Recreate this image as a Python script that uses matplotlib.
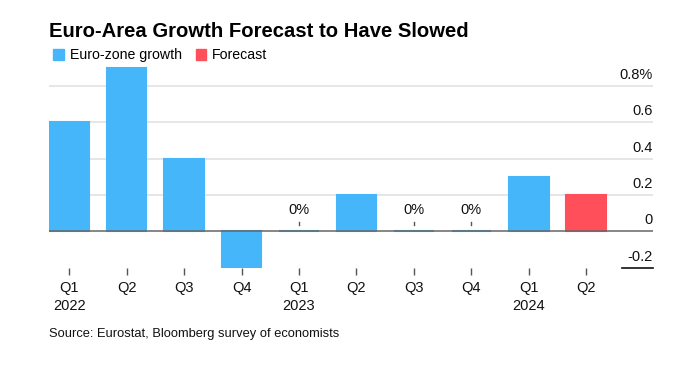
import matplotlib.pyplot as plt
import matplotlib.transforms as mtransforms
from matplotlib.patches import Patch

plt.rcParams['font.family'] = ['Liberation Sans', 'DejaVu Sans']

# Quarterly euro-area GDP growth (%)
quarters = ["Q1\n2022", "Q2", "Q3", "Q4", "Q1\n2023", "Q2", "Q3", "Q4", "Q1\n2024", "Q2"]
growth = [0.6, 0.9, 0.4, -0.2, 0.0, 0.2, 0.0, 0.0, 0.3, 0.2]
is_forecast = [False] * 9 + [True]
yticks = [-0.2, 0, 0.2, 0.4, 0.6, 0.8]
ytick_labels = ["-0.2", "0", "0.2", "0.4", "0.6", "0.8%"]

blue = "#45b6fa"
red = "#ff4f5b"

fig = plt.figure(figsize=(6.99, 3.65), dpi=100)
ax = fig.add_axes([0.0701, 0.267, 0.864, 0.557])

x = list(range(len(growth)))
colors = [red if f else blue for f in is_forecast]
ax.bar(x, growth, width=0.69, color=colors, edgecolor=colors, linewidth=1.5, zorder=3)

# gridlines (label sits on top of each line)
for v in yticks[2:]:
    ax.axhline(v, color="#e1e1e1", lw=1.2, zorder=1)
ax.axhline(0.003, color="#666666", lw=1.1, zorder=4)

ax.set_xlim(-0.35, 10.16)
ax.set_ylim(-0.2, 0.92)

# right-hand y labels above their lines
trans = mtransforms.blended_transform_factory(ax.transAxes, ax.transData)
for v, lab in zip(yticks, ytick_labels):
    ax.text(1.0, v + 0.022, lab, transform=trans, ha="right", va="bottom", fontsize=10.5, color="#111111")
ax.plot([0.948, 1.0], [-0.2, -0.2], transform=trans, color="#111111", lw=1.2, clip_on=False)

# "0%" labels over zero bars
for xi, g in zip(x, growth):
    if g == 0:
        ax.text(xi, 0.08, "0%", ha="center", va="bottom", fontsize=10.5, color="#111111")
        ax.plot([xi, xi], [0.035, 0.05], color="#555555", lw=1)

ax.set_xticks(x)
ax.set_xticklabels(quarters, fontsize=10.5, color="#111111", linespacing=1.3)
ax.tick_params(axis="x", length=5, width=1, color="#555555", pad=5)
ax.set_yticks([])
for s in ax.spines.values():
    s.set_visible(False)

fig.text(0.0701, 0.915, "Euro-Area Growth Forecast to Have Slowed", fontsize=14.6, fontweight="bold", va="center")
handles = [Patch(color=blue, label="Euro-zone growth"), Patch(color=red, label="Forecast")]
fig.legend(handles=handles, loc="center left", bbox_to_anchor=(0.058, 0.848), ncol=2, frameon=False,
           fontsize=10.2, handlelength=0.75, handleheight=0.75, handletextpad=0.4, columnspacing=1.0)
fig.text(0.0701, 0.085, "Source: Eurostat, Bloomberg survey of economists", fontsize=9.3, va="center", color="#111111")

fig.savefig("out.png", dpi=100)
